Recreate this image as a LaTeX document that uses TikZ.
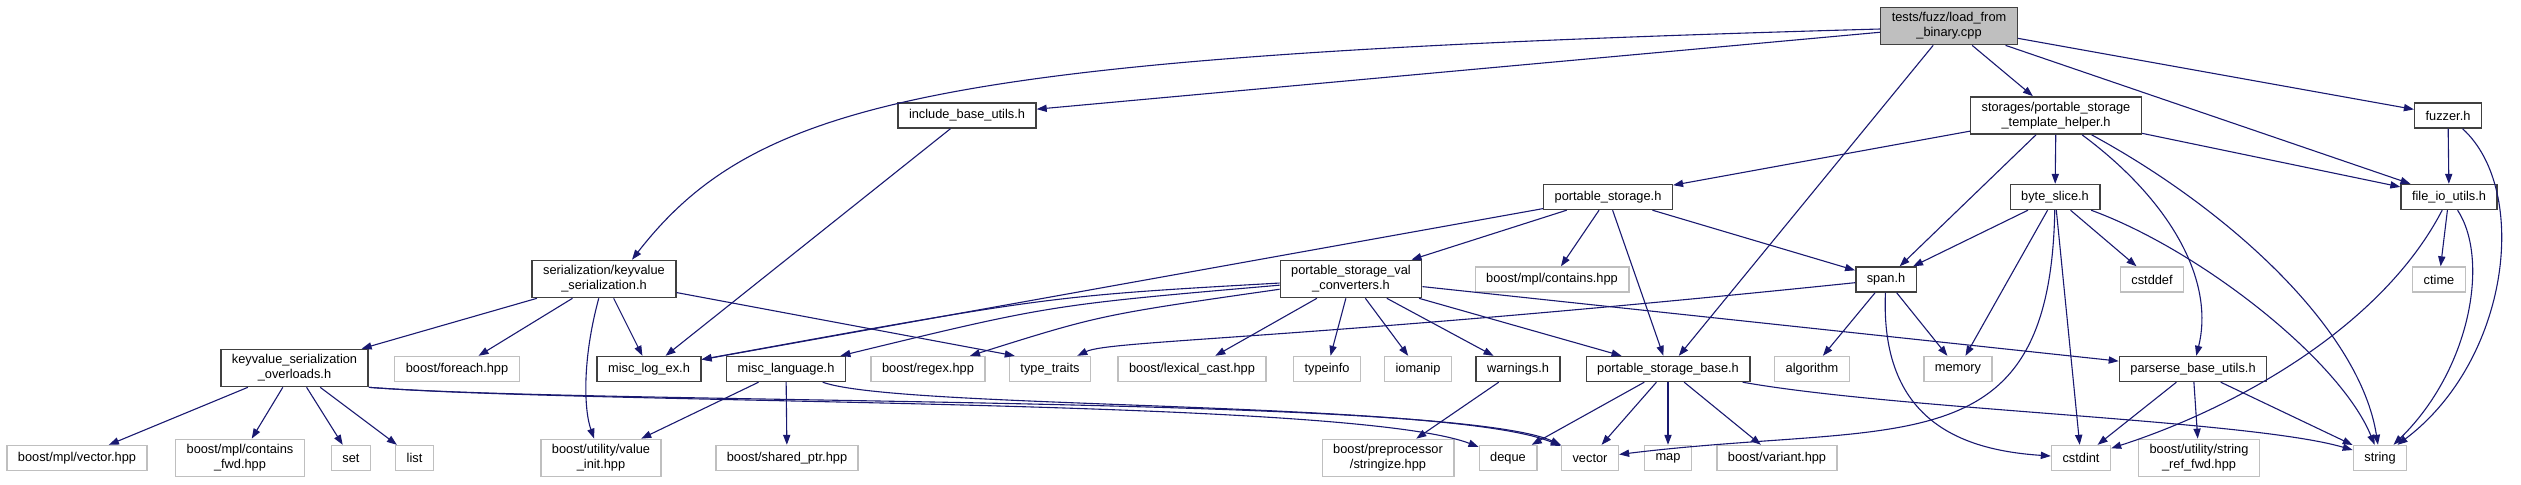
\documentclass[tikz,border=0pt]{standalone}
\usepackage{fontspec}
\setmainfont{Liberation Sans}
\usepackage{tikz}
\usetikzlibrary{arrows.meta}

\definecolor{edgeblue}{HTML}{191970}
\definecolor{hdrgray}{HTML}{404040}
\definecolor{sysgray}{HTML}{BFBFBF}

\begin{document}
\begin{tikzpicture}[
    x=0.5pt, y=-0.5pt,
    every node/.style={
	font=\fontsize{6.4}{7.5}\selectfont,
	align=center,
	inner xsep=5.5pt,
	inner ysep=2.6pt,
	minimum height=12.5pt
    },
    hdr/.style={draw=hdrgray, line width=0.7pt, fill=white},
    sys/.style={draw=sysgray, line width=0.7pt, fill=white},
    root/.style={draw=hdrgray, line width=0.7pt, fill=sysgray},
    dep/.style={->, draw=edgeblue, line width=0.55pt},
    >={Triangle[length=5pt, width=3.6pt]}
]
	\useasboundingbox (0,0) rectangle (2521,484);

	% rows 0 - 2
	\node[root] (main) at (1949,26) {tests/fuzz/load\_from\\\_binary.cpp};
	\node[hdr] (incbase) at (967,115.5) {include\_base\_utils.h};
	\node[hdr] (pshelper) at (2056,115.5) {storages/portable\_storage\\\_template\_helper.h};
	\node[hdr] (fuzzer) at (2448,115.5) {fuzzer.h};
	\node[hdr] (pstorage) at (1608,197) {portable\_storage.h};
	\node[hdr] (byteslice) at (2055,197) {byte\_slice.h};
	\node[hdr] (fileio) at (2449,197) {file\_io\_utils.h};

	% row 3
	\node[hdr] (kvser) at (604,279) {serialization/keyvalue\\\_serialization.h};
	\node[hdr] (valconv) at (1351,279) {portable\_storage\_val\\\_converters.h};
	\node[sys] (mplcontains) at (1552,279.5) {boost/mpl/contains.hpp};
	\node[hdr] (span) at (1886,279.5) {span.h};
	\node[sys] (cstddef) at (2152,279.5) {cstddef};
	\node[sys] (ctime) at (2439,279.5) {ctime};

	% row 4
	\node[hdr] (kvover) at (294.5,368) {keyvalue\_serialization\\\_overloads.h};
	\node[sys] (foreach) at (457,369) {boost/foreach.hpp};
	\node[hdr] (logex) at (649,369) {misc\_log\_ex.h};
	\node[hdr] (mlang) at (786,369) {misc\_language.h};
	\node[sys] (regex) at (928,369) {boost/regex.hpp};
	\node[sys] (typetraits) at (1050,369) {type\_traits};
	\node[sys] (lexcast) at (1192,369) {boost/lexical\_cast.hpp};
	\node[sys] (typeinfo) at (1327,369) {typeinfo};
	\node[sys] (iomanip) at (1418,369) {iomanip};
	\node[hdr] (warnings) at (1518,369) {warnings.h};
	\node[hdr] (psbase) at (1668,369) {portable\_storage\_base.h};
	\node[sys] (algorithm) at (1812,369) {algorithm};
	\node[sys] (memory) at (1958,369) {memory};
	\node[hdr] (parserse) at (2193,369) {parserse\_base\_utils.h};

	% row 5
	\node[sys] (mplvector) at (77,458) {boost/mpl/vector.hpp};
	\node[sys] (containsfwd) at (240,458) {boost/mpl/contains\\\_fwd.hpp};
	\node[sys] (set) at (351,458) {set};
	\node[sys] (list) at (414.5,458) {list};
	\node[sys] (valueinit) at (601,458) {boost/utility/value\\\_init.hpp};
	\node[sys] (sharedptr) at (787,458) {boost/shared\_ptr.hpp};
	\node[sys] (stringize) at (1388,458) {boost/preprocessor\\/stringize.hpp};
	\node[sys] (deque) at (1508,458) {deque};
	\node[sys] (vector) at (1590,458) {vector};
	\node[sys] (map) at (1668,458) {map};
	\node[sys] (variant) at (1777,458) {boost/variant.hpp};
	\node[sys] (cstdint) at (2081,458) {cstdint};
	\node[sys] (strref) at (2199,458) {boost/utility/string\\\_ref\_fwd.hpp};
	\node[sys] (string) at (2380,458) {string};

	% load_from_binary.cpp
	\draw[dep] ([yshift=-1.5pt]main.west) .. controls (950,55) and (760,95) .. ([xshift=14pt]kvser.north);
	\draw[dep] (main) -- (incbase);
	\draw[dep] (main) -- (psbase);
	\draw[dep] (main) -- (pshelper);
	\draw[dep] (main) -- (fileio);
	\draw[dep] (main) -- (fuzzer);

	% include_base_utils.h
	\draw[dep] (incbase) -- (logex);

	% portable_storage_template_helper.h
	\draw[dep] (pshelper) -- (pstorage);
	\draw[dep] (pshelper) -- (span);
	\draw[dep] (pshelper) -- (byteslice);
	\draw[dep] (pshelper) -- (fileio);
	\draw[dep] (pshelper) .. controls (2170,200) and (2215,280) .. (parserse);
	\draw[dep] (pshelper) .. controls (2230,210) and (2360,330) .. (string);

	% fuzzer.h / file_io_utils.h
	\draw[dep] (fuzzer) -- (fileio);
	\draw[dep] (fuzzer) .. controls (2530,190) and (2510,360) .. (string);
	\draw[dep] (fileio) -- (ctime);
	\draw[dep] (fileio) .. controls (2490,260) and (2470,370) .. (string);
	\draw[dep] (fileio) .. controls (2380,330) and (2230,410) .. (cstdint);

	% byte_slice.h
	\draw[dep] (byteslice) -- (span);
	\draw[dep] (byteslice) -- (memory);
	\draw[dep] (byteslice) .. controls (2050,470) and (1900,420) .. (vector);
	\draw[dep] (byteslice) -- (cstdint);
	\draw[dep] (byteslice) -- (cstddef);
	\draw[dep] (byteslice) .. controls (2200,250) and (2340,360) .. (string);

	% portable_storage.h
	\draw[dep] (pstorage) -- (logex);
	\draw[dep] (pstorage) -- (valconv);
	\draw[dep] (pstorage) -- (mplcontains);
	\draw[dep] (pstorage) -- (psbase);
	\draw[dep] (pstorage) -- (span);

	% keyvalue_serialization.h
	\draw[dep] (kvser) -- (kvover);
	\draw[dep] (kvser) -- (foreach);
	\draw[dep] (kvser) -- (logex);
	\draw[dep] (kvser) .. controls (582,360) and (584,410) .. (valueinit);
	\draw[dep] (kvser) -- ([xshift=3pt]typetraits.north west);

	% portable_storage_val_converters.h
	\draw[dep] (valconv) .. controls (1050,296) .. (logex);
	\draw[dep] (valconv) .. controls (1050,305) .. (mlang);
	\draw[dep] (valconv) .. controls (1100,315) .. (regex);
	\draw[dep] (valconv) -- (lexcast);
	\draw[dep] (valconv) -- (typeinfo);
	\draw[dep] (valconv) -- (iomanip);
	\draw[dep] (valconv) -- (warnings);
	\draw[dep] (valconv) -- (psbase);
	\draw[dep] (valconv) -- (parserse);

	% span.h
	\draw[dep] (span) .. controls (1300,340) and (1110,340) .. (typetraits);
	\draw[dep] (span) -- (algorithm);
	\draw[dep] (span) -- (memory);
	\draw[dep] (span) .. controls (1880,420) and (1960,450) .. (cstdint);

	% parserse_base_utils.h
	\draw[dep] (parserse) -- (cstdint);
	\draw[dep] (parserse) -- (strref);
	\draw[dep] (parserse) -- (string);

	% portable_storage_base.h
	\draw[dep] (psbase) -- (deque);
	\draw[dep] (psbase) -- (vector);
	\draw[dep] (psbase) -- (map);
	\draw[dep] (psbase) -- (variant);
	\draw[dep] (psbase) .. controls (1900,410) and (2250,420) .. (string);

	% warnings.h
	\draw[dep] (warnings) -- (stringize);

	% keyvalue_serialization_overloads.h
	\draw[dep] (kvover) -- (mplvector);
	\draw[dep] (kvover) -- (containsfwd);
	\draw[dep] (kvover) -- (set);
	\draw[dep] (kvover) -- (list);
	\draw[dep] (kvover.south east) .. controls (600,405) and (1350,398) .. (deque);
	\draw[dep] (kvover.south east) .. controls (600,405) and (1450,395) .. (vector);

	% misc_language.h
	\draw[dep] (mlang) -- (valueinit);
	\draw[dep] (mlang) -- (sharedptr);
	\draw[dep] (mlang) .. controls (900,410) and (1450,400) .. (vector);
\end{tikzpicture}
\end{document}
